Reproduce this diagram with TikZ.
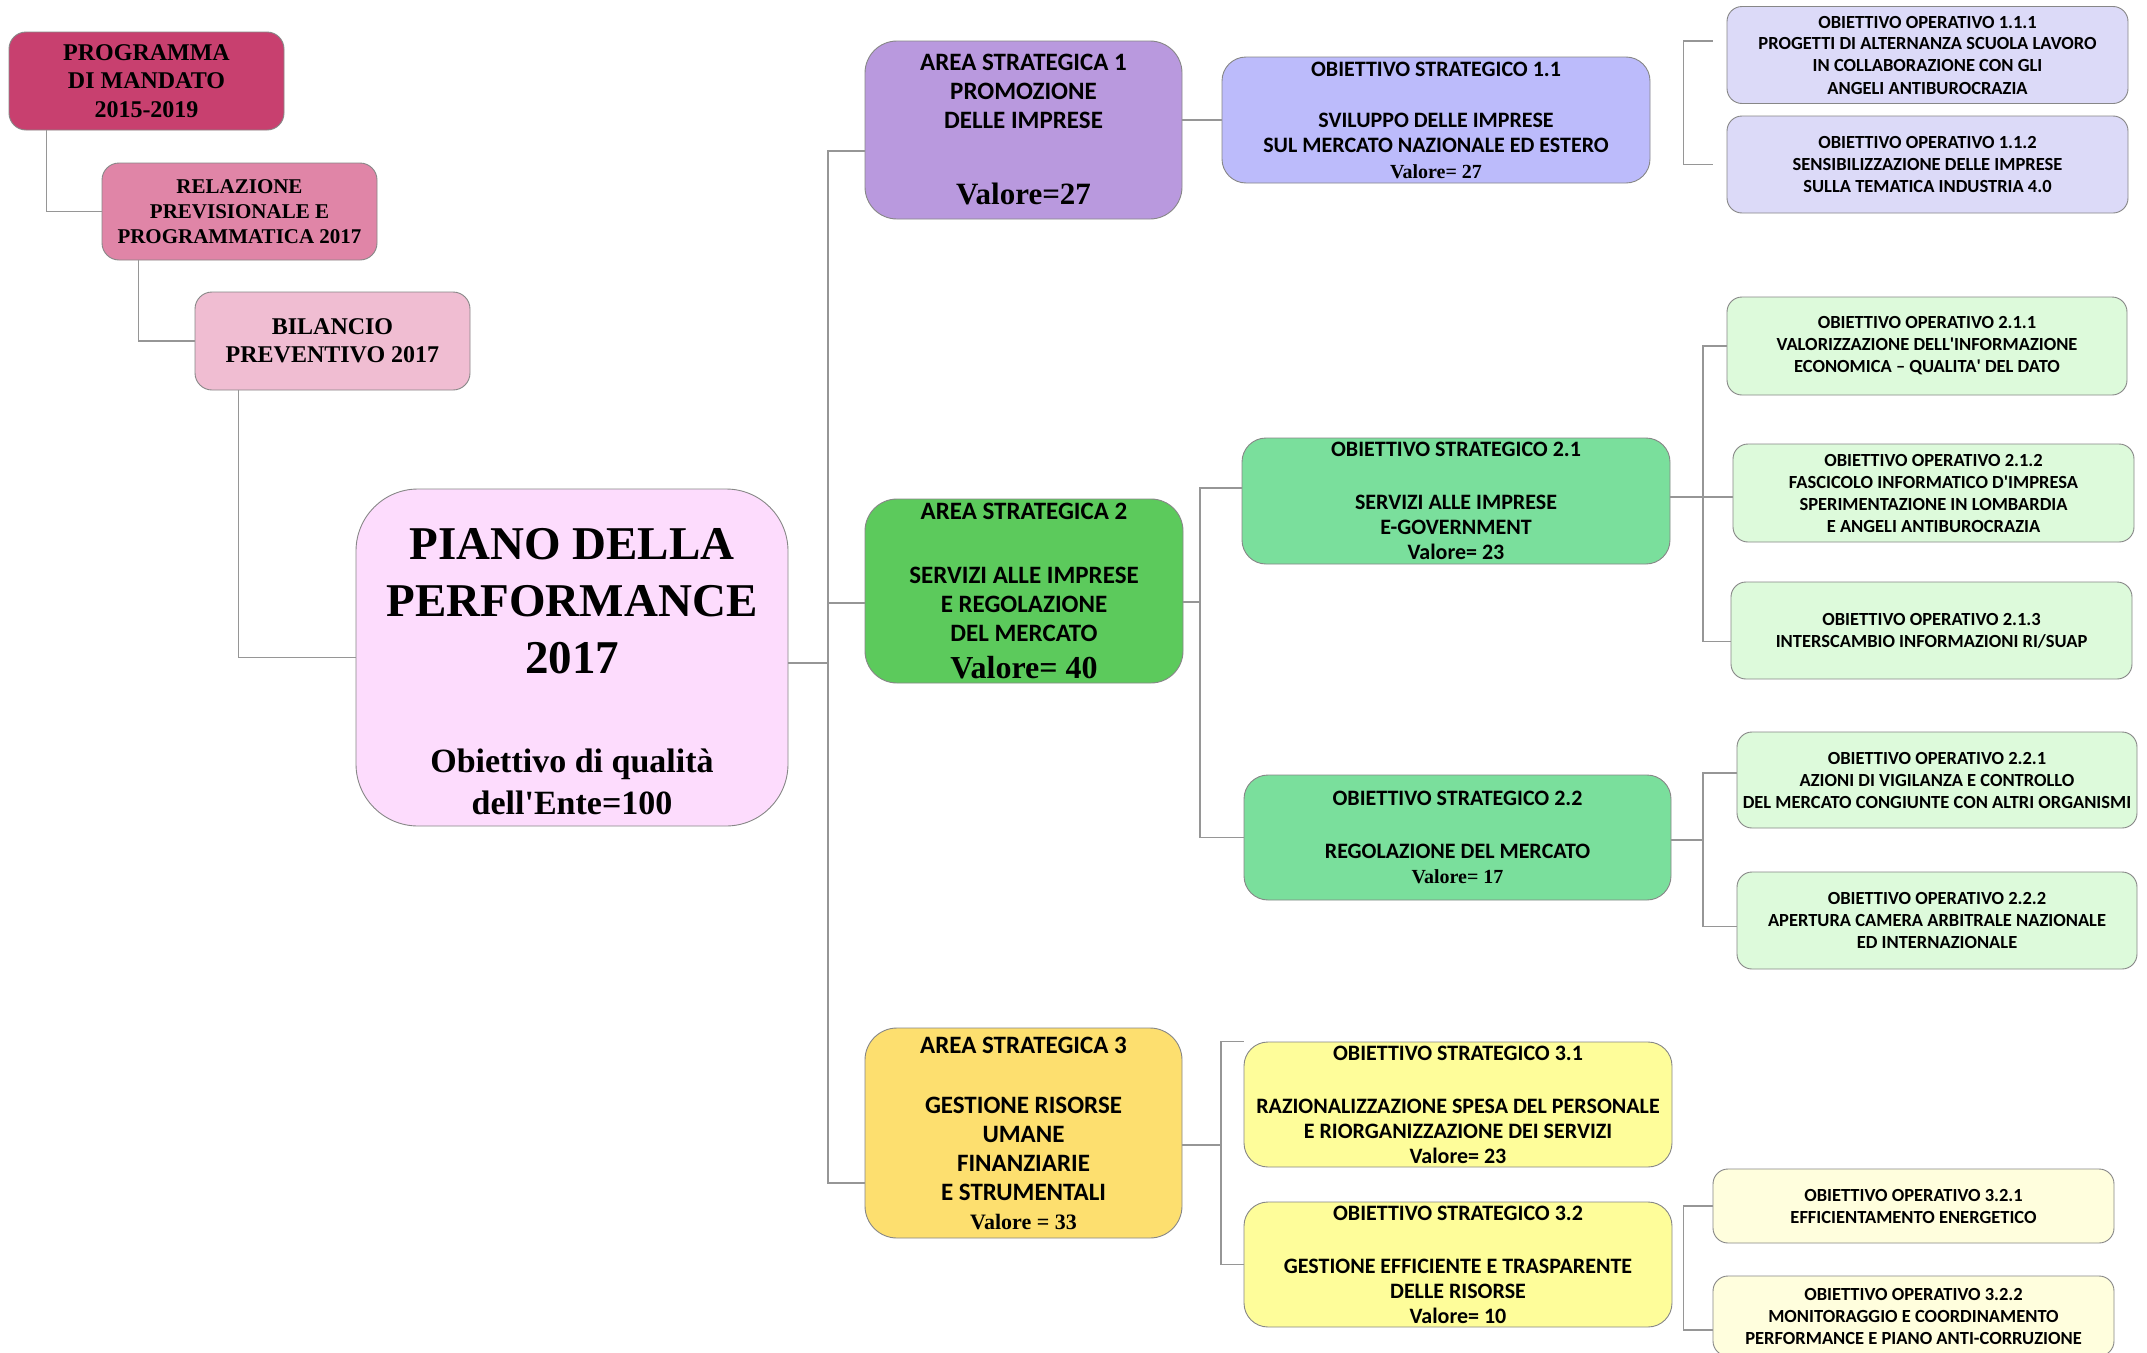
\documentclass[tikz,border=0pt]{standalone}
\usepackage{fontspec}
\setmainfont{Liberation Serif}
\newfontfamily\carlito{Carlito}
\usetikzlibrary{calc}
\definecolor{progfill}{RGB}{200,64,111}
\definecolor{relfill}{RGB}{224,133,167}
\definecolor{bilfill}{RGB}{240,189,210}
\definecolor{pianofill}{RGB}{253,220,253}
\definecolor{areaone}{RGB}{185,153,222}
\definecolor{stratone}{RGB}{188,187,251}
\definecolor{operone}{RGB}{220,218,248}
\definecolor{areatwo}{RGB}{92,202,92}
\definecolor{strattwo}{RGB}{122,223,156}
\definecolor{opertwo}{RGB}{221,250,219}
\definecolor{areathree}{RGB}{253,223,111}
\definecolor{stratthree}{RGB}{254,253,154}
\definecolor{operthree}{RGB}{255,254,221}
\definecolor{boxline}{RGB}{135,135,135}
\definecolor{linkline}{RGB}{150,150,150}
\tikzset{box/.style = {draw=boxline, line width=0.9pt, rectangle, inner sep=0pt, align=center}}
\tikzset{boxsize/.style 2 args = {minimum width=#1pt, minimum height=#2pt}}
\tikzset{doc/.style = {box, rounded corners=17pt}}
\tikzset{piano/.style = {box, rounded corners=62pt, font=\bfseries\fontsize{47}{57}\selectfont}}
\tikzset{area/.style = {box, rounded corners=32pt, font=\carlito\bfseries\fontsize{25}{29}\selectfont}}
\tikzset{strat/.style = {box, rounded corners=24pt, font=\carlito\bfseries\fontsize{22}{25}\selectfont}}
\tikzset{oper/.style = {box, rounded corners=15pt, font=\carlito\bfseries\fontsize{18.5}{22}\selectfont}}
\tikzset{link/.style = {draw=linkline, line width=1.2pt}}
\newcommand{\quality}{\fontsize{34}{57}\selectfont}

\begin{document}
\begin{tikzpicture}[x=1pt, y=-1pt]
  \fill [white] (0, 0) rectangle (2147, 1352);
  \useasboundingbox (0, 0) rectangle (2147, 1352);
  % documenti di programmazione
  \node [doc, fill=progfill, boxsize={275}{98}, font=\bfseries\fontsize{24}{28.5}\selectfont] (prog) at (146.5, 81)
    {PROGRAMMA\\DI MANDATO\\2015-2019};
  \node [doc, fill=relfill, boxsize={275}{97}, font=\bfseries\fontsize{21}{25}\selectfont] (rel) at (239.5, 211.5)
    {RELAZIONE\\PREVISIONALE E\\PROGRAMMATICA 2017};
  \node [doc, fill=bilfill, boxsize={275}{98}, font=\bfseries\fontsize{24}{28}\selectfont] (bil) at (332.5, 341)
    {BILANCIO\\PREVENTIVO 2017};
  \node [piano, fill=pianofill, boxsize={432}{337}] (piano) at (572, 657.5)
    {\rule{0pt}{60pt}PIANO DELLA\\PERFORMANCE\\2017\\[42pt]\quality Obiettivo di qualità\\[-15pt]\quality dell\textquotesingle Ente=100};
  % aree strategiche
  \node [area, fill=areaone, boxsize={317}{178}] (a1) at (1023.5, 130)
    {AREA STRATEGICA 1\\PROMOZIONE\\DELLE IMPRESE\\[47pt]{\rmfamily\fontsize{31}{29}\selectfont Valore=27}};
  \node [area, fill=areatwo, boxsize={318}{184}] (a2) at (1024, 591)
    {AREA STRATEGICA 2\\[35pt]SERVIZI ALLE IMPRESE\\E REGOLAZIONE\\DEL MERCATO\\[8pt]{\rmfamily\fontsize{32}{29}\selectfont Valore= 40}};
  \node [area, fill=areathree, boxsize={317}{210}] (a3) at (1023.5, 1133)
    {AREA STRATEGICA 3\\[31pt]GESTIONE RISORSE\\UMANE\\FINANZIARIE\\E STRUMENTALI\\{\rmfamily\fontsize{22}{29}\selectfont Valore = 33}};
  % obiettivi strategici
  \node [strat, fill=stratone, boxsize={428}{126}] (os11) at (1436, 120)
    {OBIETTIVO STRATEGICO 1.1\\[26pt]SVILUPPO DELLE IMPRESE\\SUL MERCATO NAZIONALE ED ESTERO\\[1pt]{\rmfamily\fontsize{20}{25}\selectfont Valore= 27}};
  \node [strat, fill=strattwo, boxsize={428}{126}] (os21) at (1456, 501)
    {OBIETTIVO STRATEGICO 2.1\\[28pt]SERVIZI ALLE IMPRESE\\E-GOVERNMENT\\Valore= 23};
  \node [strat, fill=strattwo, boxsize={427}{125}] (os22) at (1457.5, 837.5)
    {OBIETTIVO STRATEGICO 2.2\\[28pt]REGOLAZIONE DEL MERCATO\\{\rmfamily\fontsize{20}{25}\selectfont Valore= 17}};
  \node [strat, fill=stratthree, boxsize={428}{125}] (os31) at (1458, 1104.5)
    {OBIETTIVO STRATEGICO 3.1\\[28pt]RAZIONALIZZAZIONE SPESA DEL PERSONALE\\E RIORGANIZZAZIONE DEI SERVIZI\\Valore= 23};
  \node [strat, fill=stratthree, boxsize={428}{125}] (os32) at (1458, 1264.5)
    {OBIETTIVO STRATEGICO 3.2\\[28pt]GESTIONE EFFICIENTE E TRASPARENTE\\DELLE RISORSE\\Valore= 10};
  % obiettivi operativi
  \node [oper, fill=operone, boxsize={401}{97}] (oo111) at (1927.5, 55)
    {OBIETTIVO OPERATIVO 1.1.1\\PROGETTI DI ALTERNANZA SCUOLA LAVORO\\IN COLLABORAZIONE CON GLI\\ANGELI ANTIBUROCRAZIA};
  \node [oper, fill=operone, boxsize={401}{97}] (oo112) at (1927.5, 164.5)
    {OBIETTIVO OPERATIVO 1.1.2\\SENSIBILIZZAZIONE DELLE IMPRESE\\SULLA TEMATICA INDUSTRIA 4.0};
  \node [oper, fill=opertwo, boxsize={400}{98}] (oo211) at (1927, 346)
    {OBIETTIVO OPERATIVO 2.1.1\\VALORIZZAZIONE DELL\textquotesingle INFORMAZIONE\\ECONOMICA – QUALITA\textquotesingle{} DEL DATO};
  \node [oper, fill=opertwo, boxsize={401}{98}] (oo212) at (1933.5, 493)
    {OBIETTIVO OPERATIVO 2.1.2\\FASCICOLO INFORMATICO D\textquotesingle IMPRESA\\SPERIMENTAZIONE IN LOMBARDIA\\E ANGELI ANTIBUROCRAZIA};
  \node [oper, fill=opertwo, boxsize={401}{97}] (oo213) at (1931.5, 630.5)
    {OBIETTIVO OPERATIVO 2.1.3\\INTERSCAMBIO INFORMAZIONI RI/SUAP};
  \node [oper, fill=opertwo, boxsize={400}{96}] (oo221) at (1937, 780)
    {OBIETTIVO OPERATIVO 2.2.1\\AZIONI DI VIGILANZA E CONTROLLO\\DEL MERCATO CONGIUNTE CON ALTRI ORGANISMI};
  \node [oper, fill=opertwo, boxsize={400}{97}] (oo222) at (1937, 920.5)
    {OBIETTIVO OPERATIVO 2.2.2\\APERTURA CAMERA ARBITRALE NAZIONALE\\ED INTERNAZIONALE};
  \node [oper, fill=operthree, boxsize={401}{74}] (oo321) at (1913.5, 1206)
    {OBIETTIVO OPERATIVO 3.2.1\\EFFICIENTAMENTO ENERGETICO};
  \node [oper, fill=operthree, boxsize={401}{80}] (oo322) at (1913.5, 1316)
    {OBIETTIVO OPERATIVO 3.2.2\\MONITORAGGIO E COORDINAMENTO\\PERFORMANCE E PIANO ANTI-CORRUZIONE};
  % collegamenti
  \draw [link] ([xshift=38pt]prog.south west) |- (rel.west);
  \draw [link] ([xshift=37pt]rel.south west) |- (bil.west);
  \draw [link] ([xshift=44pt]bil.south west) |- (piano.west);
  \coordinate (trunk) at (828, 663);
  \draw [link] (trunk -| piano.east) -- (trunk);
  \draw [link] ([yshift=-21pt]a1.west) -| (trunk) |- ([yshift=-50pt]a3.west);
  \draw [link] ([yshift=-12pt]a2.west) -- ++(-37pt, 0pt);
  \draw [link] (a1.east |- os11.west) -- (os11.west);
  \coordinate (fork2) at (1200, 602);
  \draw [link] (a2.east |- fork2) -- (fork2);
  \draw [link] ([yshift=13pt]os21.west) -| (fork2) |- (os22.west);
  \coordinate (fork3) at (1221, 1145);
  \draw [link] (a3.east |- fork3) -- (fork3);
  \draw [link] (os31.north west) -| (fork3) |- (os32.west);
  \coordinate (fork21) at (1703, 497);
  \draw [link] (os21.east |- fork21) -- (oo212.west |- fork21);
  \draw [link] (oo211.west) -| (fork21) |- ([yshift=-11pt]oo213.west);
  \coordinate (fork22) at (1703, 840);
  \draw [link] (os22.east |- fork22) -- (fork22);
  \draw [link] ([yshift=7pt]oo221.west) -| (fork22) |- ([yshift=-6pt]oo222.west);
  \draw [link] ([xshift=-14pt, yshift=14pt]oo111.west) -- ++(-29pt, 0pt) |- ([xshift=-14pt]oo112.west);
  \draw [link] (oo321.west) -- ++(-29pt, 0pt) |- ([yshift=-14pt]oo322.west);
\end{tikzpicture}
\end{document}
